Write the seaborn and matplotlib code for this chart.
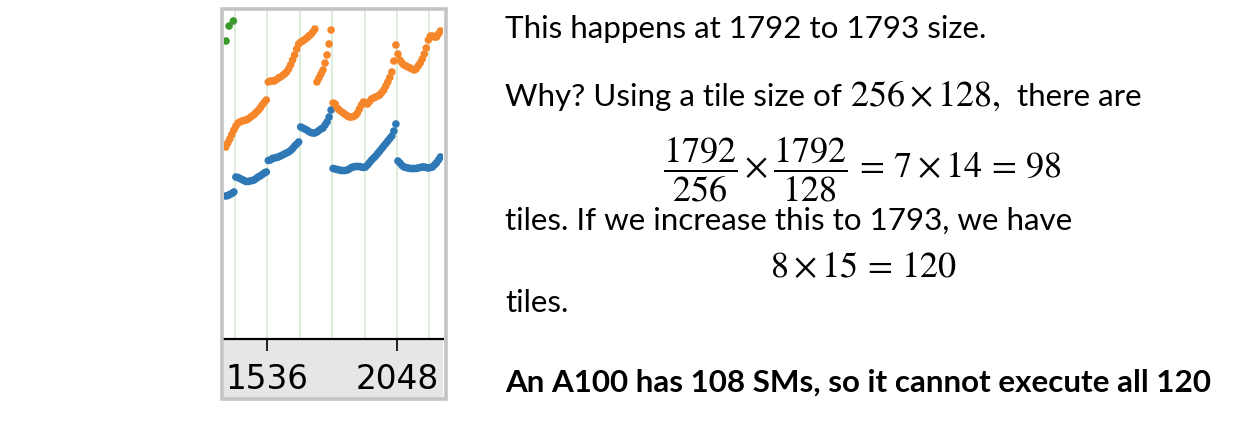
import numpy as np
import pandas as pd
import matplotlib
matplotlib.use("Agg")
import matplotlib.pyplot as plt
import seaborn as sns
from matplotlib.patches import Rectangle

# ---------------- data ----------------
sizes = list(range(1372, 2221, 8))   # matrix sizes at which points were read

blue_vals = [
    143, 143.5, 144.5, 145.5, 147, 162, 161.5, 160.5,
    159.5, 158.5, 157.5, 157.5, 158, 158.5, 159, 160.5,
    162, 163, 164.5, 166, 167, 178.5, 179, 180.5,
    181, 181.5, 182, 183, 184, 185, 186, 187,
    188.5, 190.5, 193, 195, 197, 212, 211, 210,
    209, 207.5, 206.5, 206, 206, 207, 208.5, 210,
    211, 214, 217, 222, 229, 170.5, 170, 169.5,
    169, 168.5, 168.5, 168.5, 169, 170, 171.5, 172,
    172.5, 172.5, 172.5, 172, 171.5, 172, 174, 176.5,
    179, 181, 183, 185.5, 188, 190.5, 193, 195.5,
    198, 200.5, 203, 208, 215, 178, 176, 173.5,
    172, 171.5, 171, 170.5, 170.5, 170.5, 170.5, 171,
    171.5, 172, 172, 171.5, 171, 171.5, 172, 174,
    176, 179, 182,
]

orange_vals = [
    192, 196, 200, 204.5, 209, 213, 216, 217,
    218, 218.5, 219, 220, 221.5, 223, 224.5, 226.5,
    228.5, 231, 234, 236.5, 239, 257, 258, 258,
    258, 259.5, 261, 262, 263.5, 265, 267, 270,
    274, 279, 284, 290, 295, 297, 298, 299.5,
    301, 303, 304.5, 307, 310, 257, 261, 265,
    269, 276, 284, 295, 309, 236, 235, 231,
    229, 227.5, 226, 224.5, 223, 222, 222, 222.5,
    223.5, 226, 230, 234, 237, 236, 235, 237.5,
    240, 241, 242, 243, 244, 246.5, 249, 253,
    257, 261.5, 267, 278, 294, 285, 279, 276,
    274, 273, 272, 271, 270, 269, 270, 273,
    276, 280, 285, 291, 299, 303, 303, 302,
    302, 305, 308,
]

green_sizes = [1373, 1385, 1402]
green_vals = [298, 313, 318]

tick_values = [1536, 2048]
tick_labels = ["1536", "2048"]
grid_lines = [1408, 1536, 1664, 1792, 1920, 2048, 2176]

series_names = ["blue", "orange", "green"]
palette = {"blue": "#2f78b6", "orange": "#f5862a", "green": "#3a9a2c"}

df = pd.concat([
    pd.DataFrame({"size": sizes, "value": blue_vals, "series": "blue"}),
    pd.DataFrame({"size": sizes, "value": orange_vals, "series": "orange"}),
    pd.DataFrame({"size": green_sizes, "value": green_vals, "series": "green"}),
], ignore_index=True)

# ---------------- figure ----------------
sns.set_theme(style="white")
plt.rcParams["font.family"] = ["Lato", "DejaVu Sans"]
plt.rcParams["mathtext.fontset"] = "stix"

W, H = 1258, 438
fig = plt.figure(figsize=(W / 100, H / 100), dpi=100)
fig.patch.set_facecolor("white")

def fx(px):
    return px / W

def fy(py):
    return 1 - py / H

# tick band (behind the axes) and outer frame
fig.patches.append(Rectangle((fx(224), fy(398)), fx(443) - fx(224), fy(339) - fy(398),
                             transform=fig.transFigure, facecolor="#e6e6e6",
                             edgecolor="none", zorder=-5))
fig.patches.append(Rectangle((fx(222), fy(399)), fx(445.5) - fx(222), fy(9) - fy(399),
                             transform=fig.transFigure, facecolor="none",
                             edgecolor="#c4c4c4", linewidth=2.6, zorder=5))

ax = fig.add_axes([fx(224), fy(339), fx(443) - fx(224), fy(10.7) - fy(339)])
ax.set_facecolor("white")
for xv in grid_lines:
    ax.axvline(xv, color="#d8e9d4", lw=1.2, zorder=0)

sns.scatterplot(data=df, x="size", y="value", hue="series", palette=palette,
                hue_order=series_names, s=30, edgecolor="none", linewidth=0,
                legend=False, ax=ax, zorder=2)

ax.set_xlim(1365, 2230)
ax.set_ylim(0, 328.3)
ax.set_xticks(tick_values)
ax.set_xticklabels(tick_labels, fontfamily="DejaVu Sans", fontsize=23.5)
ax.set_yticks([])
ax.set_xlabel("")
ax.set_ylabel("")
for side in ["top", "left", "right"]:
    ax.spines[side].set_visible(False)
ax.spines["bottom"].set_color("black")
ax.spines["bottom"].set_linewidth(1.6)
ax.tick_params(axis="x", direction="out", length=8.5, width=1.2, color="black",
               pad=8.5, labelcolor="black", bottom=True)

# ---------------- explanatory text ----------------
TXT = 22.6
MATH = 26
x0 = 505
fig.text(fx(x0), fy(38.3), "This happens at 1792 to 1793 size.", fontsize=TXT,
         va="baseline", ha="left", color="black")

# line 2, built from pieces so the math part can be bigger
fig.canvas.draw()
renderer = fig.canvas.get_renderer()
pieces = [("Why? Using a tile size of ", TXT), (r"$256\times128,$", MATH), ("  there are", TXT)]
cur = x0
for s, fs in pieces:
    t = fig.text(fx(cur), fy(106), s, fontsize=fs, va="baseline", ha="left", color="black")
    bb = t.get_window_extent(renderer=renderer)
    cur += bb.width

fig.text(fx(663), fy(177.3),
         r"$\dfrac{1792}{256}\times\dfrac{1792}{128}\,=\,7\times14\,=\,98$",
         fontsize=MATH, va="baseline", ha="left", color="black")
fig.text(fx(x0), fy(230), "tiles. If we increase this to 1793, we have", fontsize=TXT,
         va="baseline", ha="left", color="black")
fig.text(fx(770), fy(276.7), r"$8\times15\,=\,120$", fontsize=MATH,
         va="baseline", ha="left", color="black")
fig.text(fx(x0), fy(312.3), "tiles.", fontsize=TXT, va="baseline", ha="left", color="black")
fig.text(fx(x0), fy(391.7), "An A100 has 108 SMs, so it cannot execute all 120",
         fontsize=TXT, fontweight="bold", va="baseline", ha="left", color="black")

fig.savefig("out.png", dpi=100)
